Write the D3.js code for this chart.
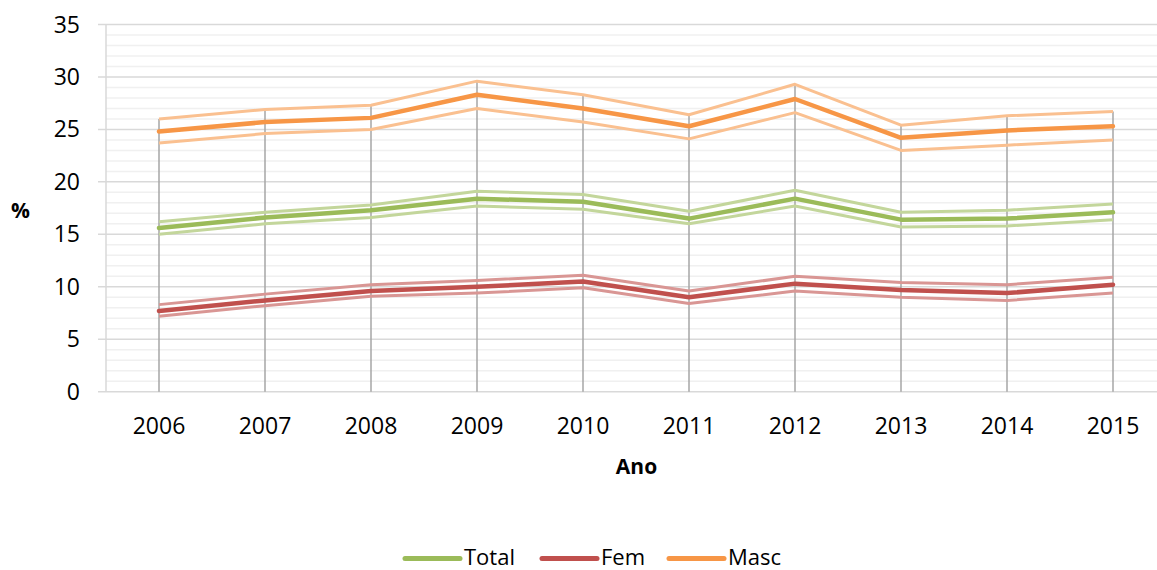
<!DOCTYPE html>
<html>
<head>
<meta charset="utf-8">
<script src="https://cdn.jsdelivr.net/npm/d3@7"></script>
<style>
  html, body { margin: 0; padding: 0; background: #fff; }
  svg { display: block; }
  text { font-family: "Open Sans", "Lato", sans-serif; fill: #000; }
</style>
</head>
<body>
<svg id="chart" width="1157" height="570"></svg>
<script>
const years = ["2006","2007","2008","2009","2010","2011","2012","2013","2014","2015"];

const totalMid = [15.6, 16.6, 17.3, 18.4, 18.1, 16.5, 18.4, 16.4, 16.5, 17.1];
const totalHi  = [16.2, 17.1, 17.8, 19.1, 18.8, 17.2, 19.2, 17.1, 17.3, 17.9];
const totalLo  = [15.0, 16.0, 16.6, 17.7, 17.4, 16.0, 17.7, 15.7, 15.8, 16.4];

const femMid = [7.7, 8.7, 9.6, 10.0, 10.5, 9.0, 10.3, 9.7, 9.4, 10.2];
const femHi  = [8.3, 9.3, 10.2, 10.6, 11.1, 9.6, 11.0, 10.4, 10.2, 10.9];
const femLo  = [7.2, 8.2, 9.1, 9.4, 9.9, 8.4, 9.6, 9.0, 8.7, 9.4];

const mascMid = [24.8, 25.7, 26.1, 28.3, 27.0, 25.3, 27.9, 24.2, 24.9, 25.3];
const mascHi  = [26.0, 26.9, 27.3, 29.6, 28.3, 26.4, 29.3, 25.4, 26.3, 26.7];
const mascLo  = [23.7, 24.6, 25.0, 27.0, 25.7, 24.1, 26.6, 23.0, 23.5, 24.0];

const yTicks = [0, 5, 10, 15, 20, 25, 30, 35];
const legendNames = ["Total", "Fem", "Masc"];

const colors = {
  Total: { main: "#9BBB59", light: "#C3D69B" },
  Fem:   { main: "#C0504D", light: "#D99694" },
  Masc:  { main: "#F79646", light: "#FAC090" }
};

const series = [
  { name: "Total", mid: totalMid, hi: totalHi, lo: totalLo },
  { name: "Fem",   mid: femMid,   hi: femHi,   lo: femLo },
  { name: "Masc",  mid: mascMid,  hi: mascHi,  lo: mascLo }
];

const svg = d3.select("#chart");
const plotLeft = 106, plotRight = 1166, plotTop = 24.5, plotBottom = 391.7;

const x = d3.scaleBand().domain(years).range([plotLeft, plotRight]).padding(0);
const cx = d => x(d) + x.bandwidth() / 2;
const y = d3.scaleLinear().domain([0, 35]).range([plotBottom, plotTop]);

// minor gridlines
const minor = d3.range(1, 35).filter(v => v % 5 !== 0);
svg.append("g").selectAll("line").data(minor).join("line")
  .attr("x1", plotLeft).attr("x2", 1157)
  .attr("y1", d => y(d)).attr("y2", d => y(d))
  .attr("stroke", "#f0f0f0").attr("stroke-width", 1.5);

// major gridlines
svg.append("g").selectAll("line").data(yTicks).join("line")
  .attr("x1", 98).attr("x2", 1157)
  .attr("y1", d => y(d)).attr("y2", d => y(d))
  .attr("stroke", "#d9d9d9").attr("stroke-width", 1.5);

// y axis line
svg.append("line")
  .attr("x1", plotLeft).attr("x2", plotLeft)
  .attr("y1", y(35)).attr("y2", y(0))
  .attr("stroke", "#d9d9d9").attr("stroke-width", 1.5);

// drop lines
const topVals = years.map((yr, i) => ({ yr, v: d3.max(series, s => s.hi[i]) }));
svg.append("g").selectAll("line").data(topVals).join("line")
  .attr("x1", d => cx(d.yr)).attr("x2", d => cx(d.yr))
  .attr("y1", d => y(d.v)).attr("y2", y(0))
  .attr("stroke", "#a6a6a6").attr("stroke-width", 1.5);

const line = d3.line().x((d, i) => cx(years[i])).y(d => y(d));

series.forEach(s => {
  const g = svg.append("g");
  [s.hi, s.lo].forEach(arr => {
    g.append("path").attr("d", line(arr))
      .attr("fill", "none").attr("stroke", colors[s.name].light)
      .attr("stroke-width", 3).attr("stroke-linejoin", "round");
  });
});
series.forEach(s => {
  svg.append("path").attr("d", line(s.mid))
    .attr("fill", "none").attr("stroke", colors[s.name].main)
    .attr("stroke-width", 4.5).attr("stroke-linejoin", "round").attr("stroke-linecap", "round");
});

// y tick labels
svg.append("g").selectAll("text").data(yTicks).join("text")
  .attr("x", 80).attr("y", d => y(d)).attr("dy", "0.35em")
  .attr("text-anchor", "end").attr("font-size", 23).text(d => d);

// x tick labels
svg.append("g").selectAll("text").data(years).join("text")
  .attr("x", d => cx(d)).attr("y", 434)
  .attr("text-anchor", "middle").attr("font-size", 23).text(d => d);

// axis titles
svg.append("text").attr("x", 20.5).attr("y", 218).attr("text-anchor", "middle")
  .attr("font-size", 21).attr("font-weight", "bold").text("%");
svg.append("text").attr("x", 636.5).attr("y", 474).attr("text-anchor", "middle")
  .attr("font-size", 21).attr("font-weight", "bold").text("Ano");

// legend
const legendX = [405, 542, 669];
const lg = svg.append("g");
legendNames.forEach((n, i) => {
  lg.append("line")
    .attr("x1", legendX[i]).attr("x2", legendX[i] + 55)
    .attr("y1", 558.5).attr("y2", 558.5)
    .attr("stroke", colors[n].main).attr("stroke-width", 5).attr("stroke-linecap", "round");
  lg.append("text").attr("x", legendX[i] + 59).attr("y", 565)
    .attr("font-size", 22).text(n);
});
</script>
</body>
</html>
